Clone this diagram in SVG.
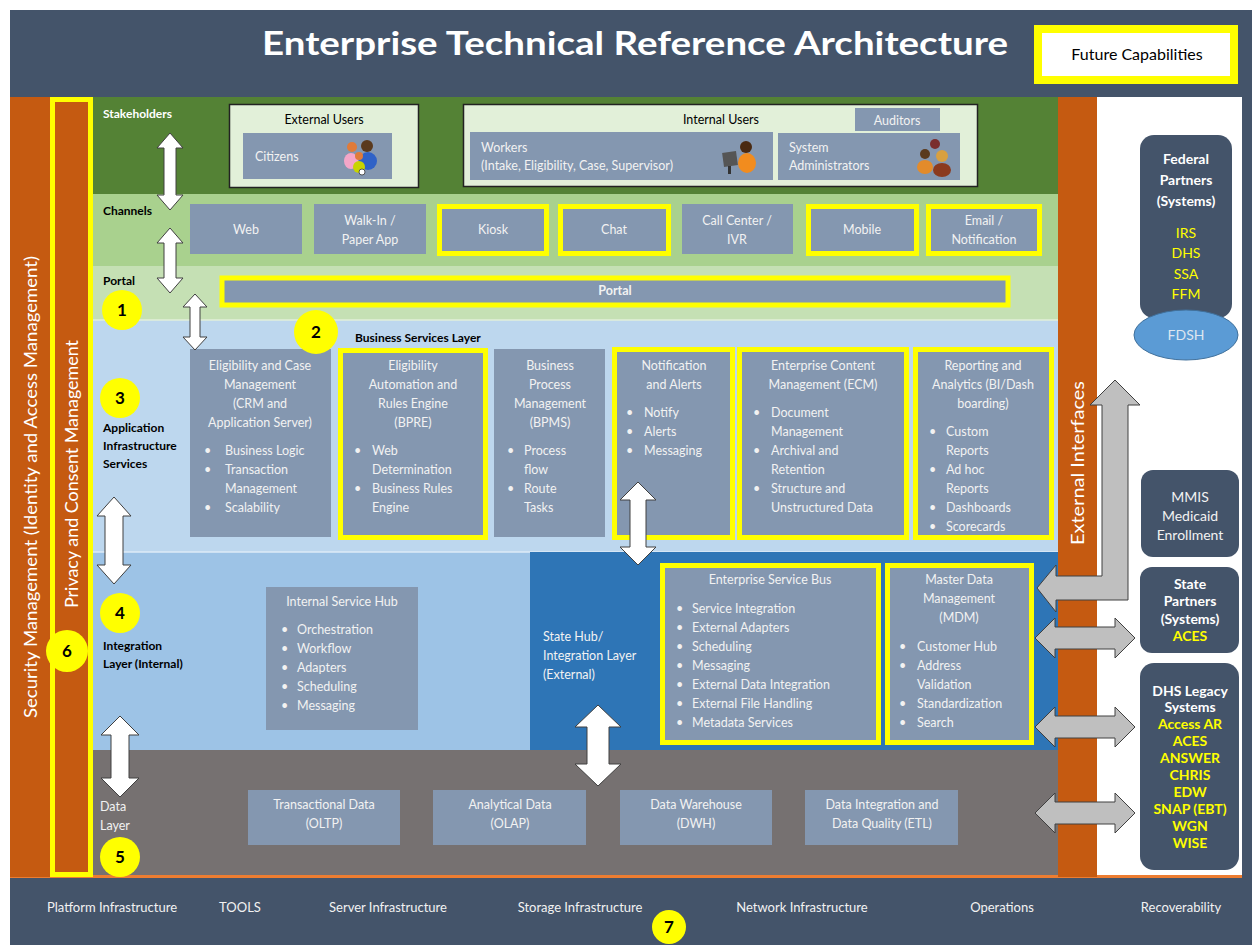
<svg xmlns="http://www.w3.org/2000/svg" width="1252" height="945" viewBox="0 0 1252 945">
<style>
text{font-family:Lato,"Open Sans","Liberation Sans",sans-serif}
.w{fill:#F2F2F2;font-size:12.5px}
.wc{fill:#F2F2F2;font-size:12.5px;text-anchor:middle}
.lb{fill:#000;font-size:12px;font-weight:bold}
.lw{fill:#fff;font-size:12px;font-weight:bold}
.box{fill:#8497B0}
.ybox{fill:#8497B0;stroke:#FFFF00;stroke-width:5}
.num{fill:#FFFF00}
.numt{fill:#000;font-size:17px;font-weight:bold;text-anchor:middle}
.warr{fill:#FFFFFF;stroke:#404040;stroke-width:1}
.garr{fill:#BFBFBF;stroke:#404040;stroke-width:1}
.rb{fill:#44546A}
.rt{fill:#fff;font-size:14px;font-weight:bold;text-anchor:middle}
.ry{fill:#FFFF00;font-size:14px;text-anchor:middle}
.ryb{fill:#FFFF00;font-size:14px;font-weight:bold;text-anchor:middle}
.ft{fill:#F2F2F2;font-size:13px;text-anchor:middle}
</style>

<g id="background">
<rect x="0" y="0" width="1252" height="945" fill="#FFFFFF"/>
<rect x="10" y="10" width="1242" height="87" fill="#44546A"/>
<rect x="1242" y="10" width="10" height="935" fill="#44546A"/>
<rect x="93" y="97" width="965" height="97" fill="#548235"/>
<rect x="93" y="194" width="965" height="72" fill="#A9D18E"/>
<rect x="93" y="266" width="965" height="54" fill="#C5E0B4"/>
<rect x="93" y="320" width="965" height="232" fill="#BDD7EE"/>
<line x1="93" y1="320" x2="1058" y2="320" stroke="#E2EFDA" stroke-width="1.5"/>
<rect x="93" y="552" width="437" height="198" fill="#9DC3E6"/>
<line x1="93" y1="552" x2="1058" y2="552" stroke="#DEEBF7" stroke-width="1.5"/>
<rect x="530" y="552" width="528" height="198" fill="#2E75B6"/>
<rect x="93" y="750" width="965" height="127" fill="#767171"/>
<rect x="10" y="875" width="1242" height="70" fill="#44546A"/>
<rect x="10" y="875" width="1232" height="3" fill="#ED7D31"/>
</g>

<g id="title">
<text x="635" y="55" fill="#FFFFFF" font-size="32" font-weight="bold" text-anchor="middle" textLength="746" lengthAdjust="spacingAndGlyphs">Enterprise Technical Reference Architecture</text>
</g>

<g id="future-capabilities">
<rect x="1038" y="29" width="196" height="51" fill="#FFFFFF" stroke="#FFFF00" stroke-width="8"/>
<text x="1137" y="60" fill="#000" font-size="16" text-anchor="middle">Future Capabilities</text>
</g>

<g id="security-management">
<rect x="10" y="97" width="40" height="780" fill="#C55A11"/>
<text transform="translate(37,487) rotate(-90)" fill="#fff" font-size="18" text-anchor="middle" textLength="462" lengthAdjust="spacingAndGlyphs">Security Management (Identity and Access Management)</text>
</g>

<g id="privacy-consent">
<rect x="52.5" y="99.5" width="38" height="775" fill="#C55A11" stroke="#FFFF00" stroke-width="5"/>
<text transform="translate(78,474) rotate(-90)" fill="#fff" font-size="17" text-anchor="middle" textLength="268" lengthAdjust="spacingAndGlyphs">Privacy and Consent Management</text>
</g>

<g id="external-interfaces">
<rect x="1058" y="97" width="39" height="780" fill="#C55A11"/>
<text transform="translate(1084,463) rotate(-90)" fill="#fff" font-size="18" text-anchor="middle" textLength="164" lengthAdjust="spacingAndGlyphs">External Interfaces</text>
</g>

<g id="layer-labels">
<text x="103" y="118" class="lw">Stakeholders</text>
<text x="103" y="215" class="lb">Channels</text>
<text x="103" y="285" class="lb" font-weight="normal">Portal</text>
<text x="355" y="342" class="lb">Business Services Layer</text>
<text class="lb"><tspan x="103" y="432">Application</tspan><tspan x="103" y="450">Infrastructure</tspan><tspan x="103" y="468">Services</tspan></text>
<text class="lb"><tspan x="103" y="650">Integration</tspan><tspan x="103" y="668">Layer (Internal)</tspan></text>
<text fill="#F2F2F2" font-size="12.5"><tspan x="100" y="811">Data</tspan><tspan x="100" y="830">Layer</tspan></text>
</g>

<g id="external-users">
<rect x="229.5" y="104.5" width="189" height="83" fill="#E2F0D9" stroke="#222" stroke-width="1.5"/>
<text x="324" y="124" fill="#000" font-size="12.5" text-anchor="middle">External Users</text>
<rect x="243" y="133" width="149" height="46" class="box"/>
<text x="255" y="161" class="w">Citizens</text>
<circle cx="352" cy="147" r="5" fill="#E07B39"/>
<ellipse cx="351" cy="161" rx="7" ry="8" fill="#F4A6C8"/>
<circle cx="367" cy="146" r="6" fill="#5A3A1E"/>
<ellipse cx="368" cy="161" rx="9" ry="9" fill="#2F62C7"/>
<circle cx="359" cy="156" r="4" fill="#E07B39"/>
<ellipse cx="359" cy="167" rx="6" ry="6" fill="#C8D400"/>
<circle cx="362" cy="172" r="3" fill="#fff" stroke="#333" stroke-width="0.8"/>
</g>

<g id="internal-users">
<rect x="463.5" y="104.5" width="514" height="82" fill="#E2F0D9" stroke="#222" stroke-width="1.5"/>
<text x="721" y="124" fill="#000" font-size="12.5" text-anchor="middle">Internal Users</text>
<rect x="855" y="108" width="85" height="23" class="box"/>
<text x="897" y="125" class="wc">Auditors</text>
<rect x="470" y="132" width="303" height="48" class="box"/>
<text class="w"><tspan x="481" y="152">Workers</tspan><tspan x="481" y="170">(Intake, Eligibility, Case, Supervisor)</tspan></text>
<rect x="723" y="152" width="14" height="14" fill="#555" transform="rotate(-8 730 159)"/>
<rect x="728" y="166" width="3" height="8" fill="#333"/>
<circle cx="746" cy="147" r="6" fill="#4A2A12"/>
<ellipse cx="747" cy="163" rx="9" ry="10" fill="#F28C1E"/>
<rect x="778" y="133" width="182" height="47" class="box"/>
<text class="w"><tspan x="789" y="152">System</tspan><tspan x="789" y="170">Administrators</tspan></text>
<circle cx="935" cy="144" r="5" fill="#7A2E2E"/>
<circle cx="925" cy="154" r="5" fill="#5A3A1E"/>
<ellipse cx="925" cy="167" rx="8" ry="7" fill="#E38B2B"/>
<circle cx="942" cy="156" r="6" fill="#D8A040"/>
<ellipse cx="942" cy="170" rx="9" ry="7" fill="#8B3A1E"/>
</g>

<g id="channels">
<rect x="190" y="204" width="112" height="50" class="box"/>
<text x="246" y="234" class="wc">Web</text>
<rect x="314" y="204" width="112" height="50" class="box"/>
<text class="wc"><tspan x="370" y="225">Walk-In /</tspan><tspan x="370" y="244">Paper App</tspan></text>
<rect x="439.5" y="206.5" width="107" height="47" class="ybox"/>
<text x="493" y="234" class="wc">Kiosk</text>
<rect x="560.5" y="206.5" width="108" height="47" class="ybox"/>
<text x="614" y="234" class="wc">Chat</text>
<rect x="682" y="204" width="111" height="50" class="box"/>
<text class="wc"><tspan x="737" y="225">Call Center /</tspan><tspan x="737" y="244">IVR</tspan></text>
<rect x="808.5" y="206.5" width="108" height="47" class="ybox"/>
<text x="862" y="234" class="wc">Mobile</text>
<rect x="928.5" y="206.5" width="111" height="47" class="ybox"/>
<text class="wc"><tspan x="984" y="225">Email /</tspan><tspan x="984" y="244">Notification</tspan></text>
</g>

<g id="portal">
<rect x="222" y="278" width="786" height="27" class="ybox"/>
<text x="615" y="295" class="wc" font-weight="bold">Portal</text>
</g>

<g id="eligibility-case-mgmt">
<rect x="190" y="349" width="141" height="188" class="box"/>
<text class="wc"><tspan x="260" y="370">Eligibility and Case</tspan><tspan x="260" y="389">Management</tspan><tspan x="260" y="408">(CRM and</tspan><tspan x="260" y="427">Application Server)</tspan></text>
<text class="w"><tspan x="204" y="455">•</tspan><tspan x="225">Business Logic</tspan><tspan x="204" y="474">•</tspan><tspan x="225">Transaction</tspan><tspan x="225" y="493">Management</tspan><tspan x="204" y="512">•</tspan><tspan x="225">Scalability</tspan></text>
</g>

<g id="bpre">
<rect x="340.5" y="350.5" width="145" height="187" class="ybox"/>
<text class="wc"><tspan x="413" y="370">Eligibility</tspan><tspan x="413" y="389">Automation and</tspan><tspan x="413" y="408">Rules Engine</tspan><tspan x="413" y="427">(BPRE)</tspan></text>
<text class="w"><tspan x="354" y="455">•</tspan><tspan x="372">Web</tspan><tspan x="372" y="474">Determination</tspan><tspan x="354" y="493">•</tspan><tspan x="372">Business Rules</tspan><tspan x="372" y="512">Engine</tspan></text>
</g>

<g id="bpms">
<rect x="494" y="349" width="111" height="188" class="box"/>
<text class="wc"><tspan x="550" y="370">Business</tspan><tspan x="550" y="389">Process</tspan><tspan x="550" y="408">Management</tspan><tspan x="550" y="427">(BPMS)</tspan></text>
<text class="w"><tspan x="507" y="455">•</tspan><tspan x="524">Process</tspan><tspan x="524" y="474">flow</tspan><tspan x="507" y="493">•</tspan><tspan x="524">Route</tspan><tspan x="524" y="512">Tasks</tspan></text>
</g>

<g id="notification-alerts">
<rect x="614.5" y="349.5" width="118" height="188" class="ybox"/>
<text class="wc"><tspan x="674" y="370">Notification</tspan><tspan x="674" y="389">and Alerts</tspan></text>
<text class="w"><tspan x="626" y="417">•</tspan><tspan x="644">Notify</tspan><tspan x="626" y="436">•</tspan><tspan x="644">Alerts</tspan><tspan x="626" y="455">•</tspan><tspan x="644">Messaging</tspan></text>
</g>

<g id="ecm">
<rect x="739.5" y="349.5" width="167" height="188" class="ybox"/>
<text class="wc"><tspan x="823" y="370">Enterprise Content</tspan><tspan x="823" y="389">Management (ECM)</tspan></text>
<text class="w"><tspan x="753" y="417">•</tspan><tspan x="771">Document</tspan><tspan x="771" y="436">Management</tspan><tspan x="753" y="455">•</tspan><tspan x="771">Archival and</tspan><tspan x="771" y="474">Retention</tspan><tspan x="753" y="493">•</tspan><tspan x="771">Structure and</tspan><tspan x="771" y="512">Unstructured Data</tspan></text>
</g>

<g id="reporting-analytics">
<rect x="915.5" y="349.5" width="136" height="188" class="ybox"/>
<text class="wc"><tspan x="983" y="370">Reporting and</tspan><tspan x="983" y="389">Analytics (BI/Dash</tspan><tspan x="983" y="408">boarding)</tspan></text>
<text class="w"><tspan x="929" y="436">•</tspan><tspan x="946">Custom</tspan><tspan x="946" y="455">Reports</tspan><tspan x="929" y="474">•</tspan><tspan x="946">Ad hoc</tspan><tspan x="946" y="493">Reports</tspan><tspan x="929" y="512">•</tspan><tspan x="946">Dashboards</tspan><tspan x="929" y="531">•</tspan><tspan x="946">Scorecards</tspan></text>
</g>

<g id="internal-service-hub">
<rect x="266" y="587" width="152" height="143" class="box"/>
<text x="342" y="606" class="wc">Internal Service Hub</text>
<text class="w"><tspan x="281" y="634">•</tspan><tspan x="297">Orchestration</tspan><tspan x="281" y="653">•</tspan><tspan x="297">Workflow</tspan><tspan x="281" y="672">•</tspan><tspan x="297">Adapters</tspan><tspan x="281" y="691">•</tspan><tspan x="297">Scheduling</tspan><tspan x="281" y="710">•</tspan><tspan x="297">Messaging</tspan></text>
</g>

<g id="state-hub-label">
<text class="w"><tspan x="543" y="641">State Hub/</tspan><tspan x="543" y="660">Integration Layer</tspan><tspan x="543" y="679">(External)</tspan></text>
</g>

<g id="esb">
<rect x="662.5" y="565.5" width="216" height="177" class="ybox"/>
<text x="770" y="584" class="wc">Enterprise Service Bus</text>
<text class="w"><tspan x="676" y="613">•</tspan><tspan x="692">Service Integration</tspan><tspan x="676" y="632">•</tspan><tspan x="692">External Adapters</tspan><tspan x="676" y="651">•</tspan><tspan x="692">Scheduling</tspan><tspan x="676" y="670">•</tspan><tspan x="692">Messaging</tspan><tspan x="676" y="689">•</tspan><tspan x="692">External Data Integration</tspan><tspan x="676" y="708">•</tspan><tspan x="692">External File Handling</tspan><tspan x="676" y="727">•</tspan><tspan x="692">Metadata Services</tspan></text>
</g>

<g id="mdm">
<rect x="887.5" y="565.5" width="144" height="177" class="ybox"/>
<text class="wc"><tspan x="959" y="584">Master Data</tspan><tspan x="959" y="603">Management</tspan><tspan x="959" y="622">(MDM)</tspan></text>
<text class="w"><tspan x="899" y="651">•</tspan><tspan x="917">Customer Hub</tspan><tspan x="899" y="670">•</tspan><tspan x="917">Address</tspan><tspan x="917" y="689">Validation</tspan><tspan x="899" y="708">•</tspan><tspan x="917">Standardization</tspan><tspan x="899" y="727">•</tspan><tspan x="917">Search</tspan></text>
</g>

<g id="transactional-data">
<rect x="248" y="790" width="152" height="55" class="box"/>
<text class="wc"><tspan x="324" y="809">Transactional Data</tspan><tspan x="324" y="828">(OLTP)</tspan></text>
</g>
<g id="analytical-data">
<rect x="433" y="790" width="153" height="55" class="box"/>
<text class="wc"><tspan x="510" y="809">Analytical Data</tspan><tspan x="510" y="828">(OLAP)</tspan></text>
</g>
<g id="data-warehouse">
<rect x="620" y="790" width="152" height="55" class="box"/>
<text class="wc"><tspan x="696" y="809">Data Warehouse</tspan><tspan x="696" y="828">(DWH)</tspan></text>
</g>
<g id="data-integration">
<rect x="805" y="790" width="153" height="55" class="box"/>
<text class="wc"><tspan x="882" y="809">Data Integration and</tspan><tspan x="882" y="828">Data Quality (ETL)</tspan></text>
</g>

<g id="federal-partners">
<rect x="1140" y="135" width="92" height="183" rx="14" class="rb"/>
<text class="rt"><tspan x="1186" y="164">Federal</tspan><tspan x="1186" y="185">Partners</tspan><tspan x="1186" y="206">(Systems)</tspan></text>
<text class="ry"><tspan x="1186" y="238">IRS</tspan><tspan x="1186" y="258">DHS</tspan><tspan x="1186" y="279">SSA</tspan><tspan x="1186" y="299">FFM</tspan></text>
</g>

<g id="fdsh">
<ellipse cx="1186" cy="335" rx="52" ry="25" fill="#5B9BD5" stroke="#41719C" stroke-width="1"/>
<text x="1186" y="340" fill="#DDE6F0" font-size="14" text-anchor="middle">FDSH</text>
</g>

<g id="mmis">
<rect x="1141" y="470" width="98" height="87" rx="12" class="rb"/>
<text fill="#F2F2F2" font-size="14" text-anchor="middle"><tspan x="1190" y="502">MMIS</tspan><tspan x="1190" y="521">Medicaid</tspan><tspan x="1190" y="540">Enrollment</tspan></text>
</g>

<g id="state-partners">
<rect x="1140" y="567" width="99" height="86" rx="12" class="rb"/>
<text class="rt"><tspan x="1190" y="589">State</tspan><tspan x="1190" y="606">Partners</tspan><tspan x="1190" y="624">(Systems)</tspan></text>
<text x="1190" y="641" class="ryb">ACES</text>
</g>

<g id="dhs-legacy">
<rect x="1140" y="663" width="99" height="207" rx="14" class="rb"/>
<text class="rt"><tspan x="1190" y="696">DHS Legacy</tspan><tspan x="1190" y="712">Systems</tspan></text>
<text class="ryb"><tspan x="1190" y="729">Access AR</tspan><tspan x="1190" y="746">ACES</tspan><tspan x="1190" y="763">ANSWER</tspan><tspan x="1190" y="780">CHRIS</tspan><tspan x="1190" y="797">EDW</tspan><tspan x="1190" y="814">SNAP (EBT)</tspan><tspan x="1190" y="831">WGN</tspan><tspan x="1190" y="848">WISE</tspan></text>
</g>

<g id="connectors">
<polygon class="warr" points="170,133 183,148 176,148 176,195 183,195 170,210 157,195 164,195 164,148 157,148"/>
<polygon class="warr" points="170,228 183,243 176,243 176,278 183,278 170,293 157,278 164,278 164,243 157,243"/>
<polygon class="warr" points="195,294 207,307 200,307 200,337 207,337 195,350 183,337 190,337 190,307 183,307"/>
<polygon class="warr" points="114,497 131,516 123,516 123,565 131,565 114,584 97,565 105,565 105,516 97,516"/>
<polygon class="warr" points="120,716 139,735 129,735 129,778 139,778 120,797 101,778 111,778 111,735 101,735"/>
<polygon class="warr" points="638,482 656,500 646,500 646,547 656,547 638,565 620,547 630,547 630,500 620,500"/>
<polygon class="warr" points="598,705 621,727 609,727 609,764 621,764 598,786 575,764 587,764 587,727 575,727"/>
<polygon class="garr" points="1115,380 1140,405 1128,405 1128,600 1056,600 1056,612 1037,588 1056,565 1056,576 1102,576 1102,405 1090,405"/>
<polygon class="garr" points="1035,638 1055,618 1055,627 1115,627 1115,618 1135,638 1115,658 1115,649 1055,649 1055,658"/>
<polygon class="garr" points="1035,727 1055,707 1055,716 1115,716 1115,707 1135,727 1115,747 1115,738 1055,738 1055,747"/>
<polygon class="garr" points="1035,813 1055,793 1055,802 1115,802 1115,793 1135,813 1115,833 1115,824 1055,824 1055,833"/>
</g>

<g id="numbers">
<circle cx="122" cy="310" r="20" class="num"/><text x="122" y="316" class="numt">1</text>
<circle cx="316" cy="332" r="22" class="num"/><text x="316" y="338" class="numt">2</text>
<circle cx="120" cy="398" r="20" class="num"/><text x="120" y="404" class="numt">3</text>
<circle cx="120" cy="613" r="20" class="num"/><text x="120" y="619" class="numt">4</text>
<circle cx="120" cy="857" r="20" class="num"/><text x="120" y="863" class="numt">5</text>
<circle cx="67" cy="651" r="21" class="num"/><text x="67" y="657" class="numt">6</text>
<circle cx="669" cy="927" r="17" class="num"/><text x="669" y="933" class="numt">7</text>
</g>

<g id="footer">
<text x="112" y="912" class="ft">Platform Infrastructure</text>
<text x="240" y="912" class="ft">TOOLS</text>
<text x="388" y="912" class="ft">Server Infrastructure</text>
<text x="580" y="912" class="ft">Storage Infrastructure</text>
<text x="802" y="912" class="ft">Network Infrastructure</text>
<text x="1002" y="912" class="ft">Operations</text>
<text x="1181" y="912" class="ft">Recoverability</text>
</g>
</svg>
